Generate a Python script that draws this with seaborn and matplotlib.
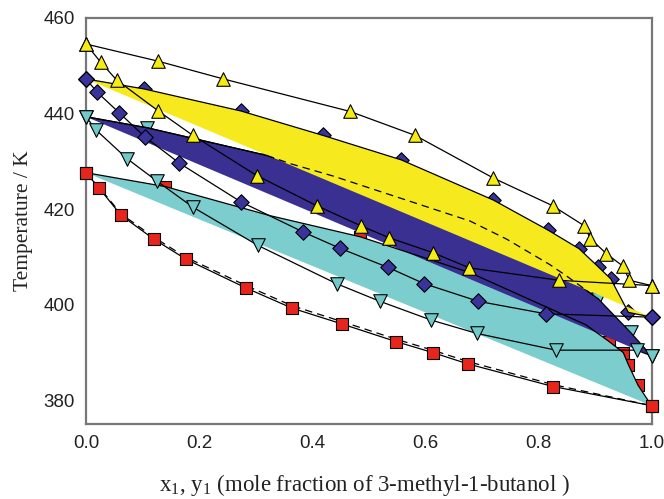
import numpy as np
import matplotlib
matplotlib.use('Agg')
import matplotlib.pyplot as plt
import seaborn as sns
from matplotlib.ticker import MultipleLocator

# ---- data (x or y mole fraction, T / K) ----
# yellow series (up triangles)
yel_dew_x = [0.0, 0.128, 0.243, 0.467, 0.582, 0.720, 0.825, 0.881, 0.892, 0.920, 0.949, 0.961, 1.0]
yel_dew_T = [454.5, 450.9, 447.2, 440.4, 435.4, 426.5, 420.7, 416.5, 413.8, 410.7, 408.1, 405.1, 404.0]
yel_bub_x = [0.0, 0.026, 0.054, 0.128, 0.189, 0.302, 0.408, 0.486, 0.536, 0.613, 0.678, 0.837, 1.0]
yel_bub_T = [454.5, 450.7, 447.0, 440.5, 435.4, 427.0, 420.7, 416.5, 414.0, 410.9, 407.7, 405.1, 404.0]

# navy series (diamonds)
nav_dew_x = [0.0, 0.103, 0.274, 0.419, 0.557, 0.720, 0.817, 0.872, 0.906, 0.928, 0.959, 1.0]
nav_dew_T = [447.2, 445.1, 440.5, 435.4, 430.3, 421.9, 415.6, 411.7, 407.9, 405.4, 398.4, 397.4]
nav_bub_x = [0.0, 0.020, 0.059, 0.104, 0.165, 0.274, 0.384, 0.449, 0.534, 0.598, 0.694, 0.813, 1.0]
nav_bub_T = [447.2, 444.4, 440.1, 435.1, 429.6, 421.5, 415.2, 411.8, 407.8, 404.4, 400.7, 398.1, 397.4]

# cyan series (down triangles)
cya_dew_x = [0.0, 0.108, 0.320, 0.906, 0.963, 1.0]
cya_dew_T = [439.3, 437.0, 431.2, 401.2, 394.2, 389.3]
cya_line_x = [0.0, 0.108, 0.320, 0.361, 0.437, 0.679, 0.744, 0.820, 0.851, 0.906, 0.963, 1.0]
cya_line_T = [439.3, 437.0, 431.2, 429.5, 426.9, 417.5, 413.7, 408.4, 405.9, 401.2, 394.2, 389.3]
cya_bub_x = [0.0, 0.018, 0.073, 0.126, 0.189, 0.304, 0.443, 0.520, 0.610, 0.691, 0.831, 0.974, 1.0]
cya_bub_T = [439.3, 436.5, 430.5, 425.8, 420.4, 412.4, 404.4, 400.7, 396.8, 394.0, 390.5, 390.5, 389.3]

# red series (squares)
red_dew_x = [0.0, 0.140, 0.485, 0.884, 0.925, 0.950, 0.959, 0.976, 1.0]
red_dew_T = [427.6, 424.7, 414.2, 395.8, 392.3, 390.0, 387.5, 383.2, 378.9]
red_line_x = [0.0, 0.140, 0.326, 0.485, 0.679, 0.884, 0.925, 0.950, 0.959, 0.976, 1.0]
red_line_T = [427.6, 424.7, 418.6, 414.2, 406.7, 395.8, 392.3, 390.0, 387.5, 383.2, 378.9]
red_bub_x = [0.0, 0.023, 0.062, 0.120, 0.177, 0.283, 0.364, 0.452, 0.548, 0.613, 0.676, 0.826, 1.0]
red_bub_T = [427.6, 424.4, 418.7, 413.7, 409.5, 403.5, 399.3, 396.0, 392.3, 390.0, 387.6, 382.9, 378.9]
red_dash_x = [0.0, 0.023, 0.062, 0.120, 0.177, 0.283, 0.364, 0.452, 0.548, 0.613, 0.676, 0.826, 1.0]
red_dash_T = [427.6, 424.6, 419.0, 414.1, 409.9, 404.0, 399.8, 396.5, 392.8, 390.5, 388.1, 383.3, 378.9]

# lower edges of the shaded bands
band_x = [0.0, 1.0]
yel_band_low = [447.2, 397.4]
nav_band_low = [439.3, 389.3]
cya_band_low = [427.6, 378.9]

# ---- style ----
sns.set_theme(style='white')
plt.rcParams['font.family'] = ['Liberation Sans', 'DejaVu Sans']
plt.rcParams['mathtext.fontset'] = 'custom'
plt.rcParams['mathtext.rm'] = 'Liberation Serif'

C_YEL, C_NAV, C_CYA, C_RED = '#F6EA1E', '#393092', '#7BCECD', '#E5261E'
M_YEL, M_NAV, M_CYA, M_RED = '#F7EC12', '#3A3399', '#72C9CA', '#E8251D'

fig = plt.figure(figsize=(6.64, 4.99), dpi=100)
ax = fig.add_axes([0.1295, 0.1497, 0.8517, 0.8148])


def band(top_x, top_T, low_T, color, z):
    xs = np.concatenate([np.asarray(top_x), np.asarray(band_x)[::-1]])
    ys = np.concatenate([np.asarray(top_T), np.asarray(low_T)[::-1]])
    ax.fill(xs, ys, color=color, lw=0, zorder=z)


def line(x, T, z, ls='-'):
    sns.lineplot(x=x, y=T, ax=ax, color='black', lw=0.9, sort=False,
                 estimator=None, zorder=z, linestyle=ls)


def pts(x, T, marker, color, s, z):
    sns.scatterplot(x=x, y=T, ax=ax, marker=marker, color=color, s=s,
                    edgecolor='black', linewidth=0.8, zorder=z,
                    legend=False, clip_on=False)


S_TRI, S_DIA, S_SQ = 95, 62, 75

# dew markers partly hidden under bands
pts(nav_dew_x, nav_dew_T, 'D', M_NAV, S_DIA, 1)
pts(cya_dew_x, cya_dew_T, 'v', M_CYA, S_TRI, 1)
pts(red_dew_x, red_dew_T, 's', M_RED, S_SQ, 1)

# shaded bands
band(red_line_x, red_line_T, cya_band_low, C_CYA, 2.0)
band(cya_line_x, cya_line_T, nav_band_low, C_NAV, 2.1)
line(cya_line_x, cya_line_T, 2.15)
band(nav_dew_x, nav_dew_T, yel_band_low, C_YEL, 2.2)

# curves
line(yel_dew_x, yel_dew_T, 3)
line(yel_bub_x, yel_bub_T, 3)
line(nav_dew_x, nav_dew_T, 3)
line(nav_bub_x, nav_bub_T, 3)
line(cya_line_x[:3], cya_line_T[:3], 3)
line(cya_line_x[2:10], cya_line_T[2:10], 3, ls=(0, (6, 4)))
line(cya_bub_x, cya_bub_T, 3)
line(red_line_x, red_line_T, 3)
line(red_bub_x, red_bub_T, 3)
line(red_dash_x, red_dash_T, 3, ls=(0, (6, 4)))

# visible markers
pts(yel_dew_x, yel_dew_T, '^', M_YEL, S_TRI, 4)
pts(yel_bub_x, yel_bub_T, '^', M_YEL, S_TRI, 4)
pts(nav_bub_x, nav_bub_T, 'D', M_NAV, S_DIA, 4)
pts([nav_dew_x[0], nav_dew_x[-1]], [nav_dew_T[0], nav_dew_T[-1]], 'D', M_NAV, S_DIA, 4)
pts(cya_bub_x, cya_bub_T, 'v', M_CYA, S_TRI, 4)
pts(red_bub_x, red_bub_T, 's', M_RED, S_SQ, 4)

# axes
ax.set_xlim(0, 1)
ax.set_ylim(375, 460)
ax.xaxis.set_minor_locator(MultipleLocator(0.04))
ax.set_xticks([0.0, 0.2, 0.4, 0.6, 0.8, 1.0])
ax.set_xticklabels(['0.0', '0.2', '0.4', '0.6', '0.8', '1.0'])
ax.set_yticks([380, 400, 420, 440, 460])
ax.set_yticklabels(['380', '400', '420', '440', '460'])
ax.tick_params(axis='both', which='major', direction='in', length=5, width=1,
               color='#707070', labelsize=13.5, pad=8, labelcolor='#222222')
ax.tick_params(axis='x', which='minor', direction='in', length=3, width=1,
               color='#707070')
ax.tick_params(top=False, right=False, which='both')
for sp in ax.spines.values():
    sp.set_color('#777777')
    sp.set_linewidth(1.6)
    sp.set_visible(True)

ax.set_xlabel('x$_\\mathregular{1}$, y$_\\mathregular{1}$ (mole fraction of 3-methyl-1-butanol )',
              family=['Liberation Serif'], fontsize=16.5, color='#222222')
ax.set_ylabel('Temperature / K', family=['Liberation Serif'], fontsize=15.5, color='#222222')
ax.yaxis.set_label_coords(-0.094, 0.5)
ax.xaxis.set_label_coords(0.493, -0.118)

fig.savefig('out.png', dpi=100)
